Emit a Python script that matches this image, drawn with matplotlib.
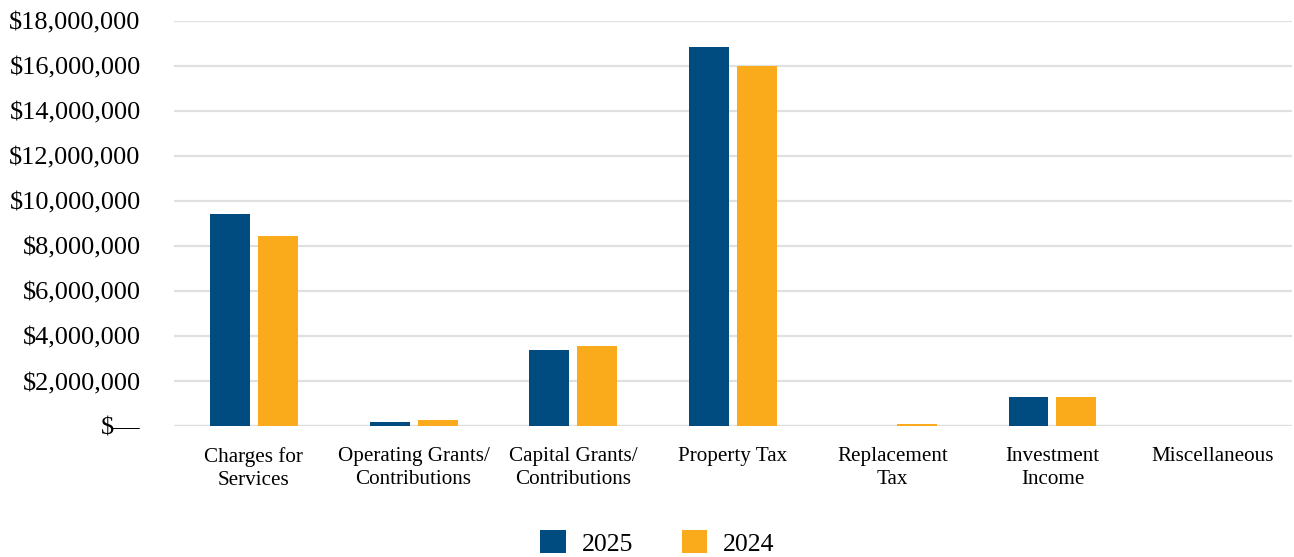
import numpy as np
import matplotlib.pyplot as plt
from matplotlib.ticker import FuncFormatter, MultipleLocator

plt.rcParams['font.family'] = ['Liberation Serif', 'DejaVu Serif']

categories = ["Charges for\nServices", "Operating Grants/\nContributions",
              "Capital Grants/\nContributions", "Property Tax",
              "Replacement\nTax", "Investment\nIncome", "Miscellaneous"]
rev_2025 = [9430000, 210000, 3400000, 16830000, 0, 1300000, 0]
rev_2024 = [8450000, 300000, 3570000, 16010000, 120000, 1300000, 0]

navy = "#004B7F"
gold = "#F9AB1B"

fig = plt.figure(figsize=(12.94, 5.57), dpi=100)
ax = fig.add_axes([0.1345, 0.2343, 0.864, 0.728])

x = np.arange(len(categories))
w = 0.25
ax.bar(x - 0.15, rev_2025, w, color=navy, label="2025", zorder=3)
ax.bar(x + 0.15, rev_2024, w, color=gold, label="2024", zorder=3)

ax.set_xlim(-0.5, len(categories) - 0.5)
ax.set_ylim(0, 18000000)
ax.yaxis.set_major_locator(MultipleLocator(2000000))


def money(v, pos):
    if v == 0:
        return "$\u2014"
    return "${:,.0f}".format(v)


ax.yaxis.set_major_formatter(FuncFormatter(money))
ax.set_xticks(x)
ax.set_xticklabels(categories, fontsize=15.2, linespacing=1.25)
ax.tick_params(axis='y', length=0, pad=24, labelsize=19)
ax.tick_params(axis='x', length=0, pad=15)

ax.grid(axis='y', color="#E0E0E0", linewidth=1.6, zorder=0)
ax.set_axisbelow(True)
for s in ax.spines.values():
    s.set_visible(False)
ax.axhline(0, color="#E0E0E0", linewidth=1.6, zorder=1)

fig.legend(loc='center', bbox_to_anchor=(0.508, 0.025), ncol=2, frameon=False,
           fontsize=18.5, handlelength=1.0, handleheight=1.0,
           handletextpad=0.6, columnspacing=1.9)

fig.savefig("out.png", dpi=100)
